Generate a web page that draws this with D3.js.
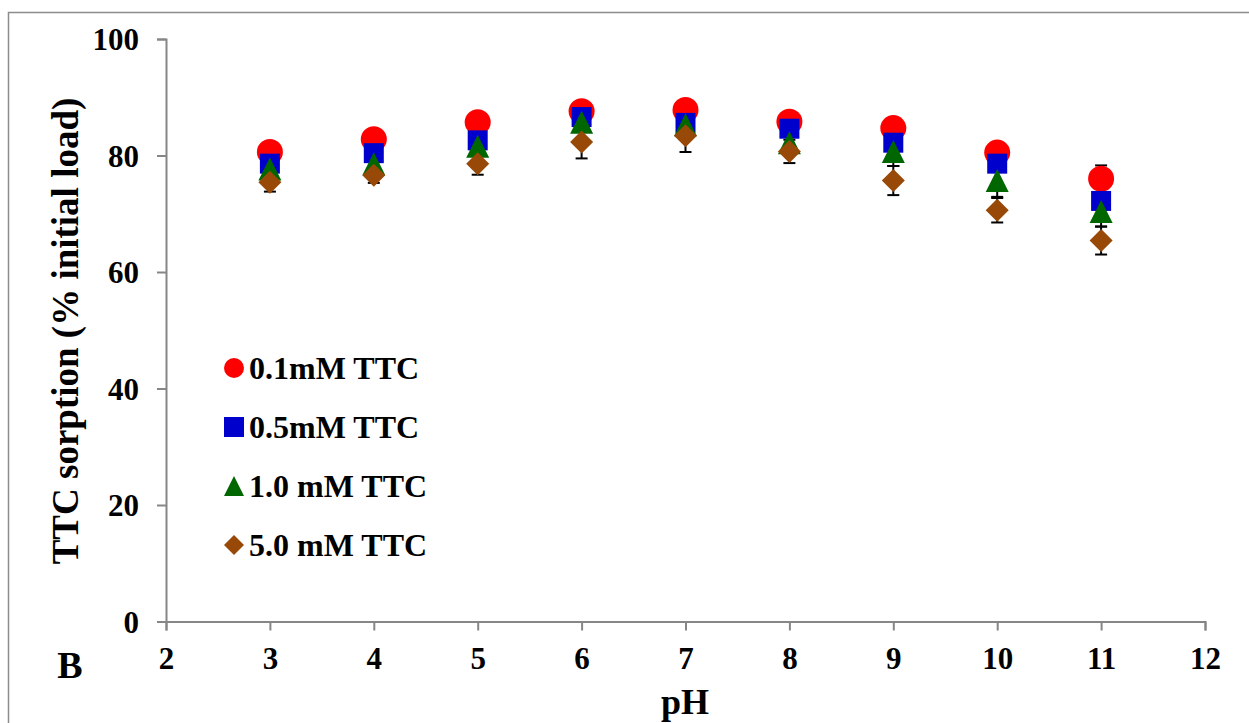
<!DOCTYPE html>
<html>
<head>
<meta charset="utf-8">
<script src="https://cdn.jsdelivr.net/npm/d3@7"></script>
<style>
  body { margin: 0; background: #fff; }
  text { font-family: "Liberation Serif", "Times New Roman", serif; font-weight: bold; fill: #000; }
</style>
</head>
<body>
<svg width="1249" height="723"></svg>
<script>
const ph = [3, 4, 5, 6, 7, 8, 9, 10, 11];

const s01 = [80.6, 82.8, 85.7, 87.6, 87.8, 85.8, 84.7, 80.5, 76.0];
const s05 = [78.6, 80.4, 82.6, 86.6, 85.6, 84.6, 82.2, 78.6, 72.2];
const s10 = [77.7, 78.6, 81.6, 85.7, 85.3, 82.2, 80.7, 75.7, 70.4];
const s50 = [75.4, 76.6, 78.6, 82.3, 83.4, 80.7, 75.7, 70.6, 65.4];

const e01 = [1.2, 1.0, 1.0, 0.8, 0.8, 1.0, 1.2, 1.5, 2.3];
const e05 = [0.8, 0.6, 0.8, 0.6, 0.8, 0.8, 1.0, 0.8, 0.8];
const e10 = [1.0, 1.0, 1.2, 1.0, 1.0, 1.2, 2.5, 2.8, 2.6];
const e50 = [1.6, 1.3, 1.9, 2.8, 2.8, 2.0, 2.5, 2.1, 2.4];

const seriesNames = ['0.1mM TTC', '0.5mM TTC', '1.0 mM TTC', '5.0 mM TTC'];
const xTicks = [2, 3, 4, 5, 6, 7, 8, 9, 10, 11, 12];
const yTicks = [0, 20, 40, 60, 80, 100];

const series = [
  {name: seriesNames[0], vals: s01, errs: e01, shape: 'circle', color: '#ff0000'},
  {name: seriesNames[1], vals: s05, errs: e05, shape: 'square', color: '#0000cc'},
  {name: seriesNames[2], vals: s10, errs: e10, shape: 'triangle', color: '#006600'},
  {name: seriesNames[3], vals: s50, errs: e50, shape: 'diamond', color: '#984807'}
];

const svg = d3.select('svg');

// outer chart frame
svg.append('rect')
  .attr('x', 8.5).attr('y', 12.5)
  .attr('width', 1300).attr('height', 800)
  .attr('fill', 'none').attr('stroke', '#8c8c8c').attr('stroke-width', 1.5);

const x = d3.scaleLinear().domain([2, 12]).range([166, 1205]);
const y = d3.scaleLinear().domain([0, 100]).range([621.5, 39]);

const axisColor = '#868686';

const xAxis = svg.append('g')
  .attr('transform', `translate(0,${y(0)})`)
  .call(d3.axisBottom(x).tickValues(xTicks).tickSize(9).tickPadding(16).tickFormat(d3.format('d')));
const yAxis = svg.append('g')
  .attr('transform', `translate(${x(2)},0)`)
  .call(d3.axisLeft(y).tickValues(yTicks).tickSize(9).tickPadding(18).tickFormat(d3.format('d')));

[xAxis, yAxis].forEach(g => {
  g.select('.domain').attr('stroke', axisColor).attr('stroke-width', 2);
  g.selectAll('.tick line').attr('stroke', axisColor).attr('stroke-width', 2);
  g.selectAll('.tick text')
    .attr('font-family', '"Liberation Serif", serif')
    .attr('font-size', 31).attr('font-weight', 'bold').attr('fill', '#000');
});
xAxis.selectAll('.tick text').attr('dy', '0.71em');
yAxis.selectAll('.tick text').attr('dy', '0.34em');

// marker shapes, sized by width in px
function shapePath(shape, s) {
  const h = s / 2;
  if (shape === 'circle') return d3.symbol(d3.symbolCircle, Math.PI * h * h)();
  if (shape === 'square') return `M${-h},${-h}H${h}V${h}H${-h}Z`;
  if (shape === 'triangle') return `M0,${-h}L${h},${h}L${-h},${h}Z`;
  return `M0,${-h}L${h},0L0,${h}L${-h},0Z`;
}
const plotSize = {circle: 26, square: 20, triangle: 23, diamond: 23};
const legendSize = {circle: 20, square: 20, triangle: 20, diamond: 20};

// error bars first, then markers
const capW = 6;
series.forEach(s => {
  const g = svg.append('g').attr('stroke', '#000').attr('stroke-width', 2);
  ph.forEach((p, i) => {
    const lo = y(s.vals[i] - s.errs[i]), hi = y(s.vals[i] + s.errs[i]);
    g.append('line').attr('x1', x(p)).attr('x2', x(p)).attr('y1', lo).attr('y2', hi);
    g.append('line').attr('x1', x(p) - capW).attr('x2', x(p) + capW).attr('y1', lo).attr('y2', lo);
    g.append('line').attr('x1', x(p) - capW).attr('x2', x(p) + capW).attr('y1', hi).attr('y2', hi);
  });
});

series.forEach(s => {
  svg.append('g').selectAll('path')
    .data(ph.map((p, i) => [p, s.vals[i]]))
    .join('path')
      .attr('transform', d => `translate(${x(d[0])},${y(d[1])})`)
      .attr('d', shapePath(s.shape, plotSize[s.shape]))
      .attr('fill', s.color);
});

// legend
const legend = svg.append('g').attr('transform', 'translate(234,368)');
series.forEach((s, i) => {
  const row = legend.append('g').attr('transform', `translate(0,${i * 59})`);
  row.append('path').attr('d', shapePath(s.shape, legendSize[s.shape])).attr('fill', s.color);
  row.append('text').attr('x', 15).attr('y', 11).attr('font-size', 32).text(s.name);
});

// axis titles
svg.append('text')
  .attr('x', 685).attr('y', 714)
  .attr('text-anchor', 'middle').attr('font-size', 36)
  .text('pH');
svg.append('text')
  .attr('transform', 'translate(78,331) rotate(-90)')
  .attr('text-anchor', 'middle').attr('font-size', 37)
  .text('TTC sorption (% initial load)');

svg.append('text')
  .attr('x', 70).attr('y', 678)
  .attr('text-anchor', 'middle').attr('font-size', 38)
  .text('B');
</script>
</body>
</html>
